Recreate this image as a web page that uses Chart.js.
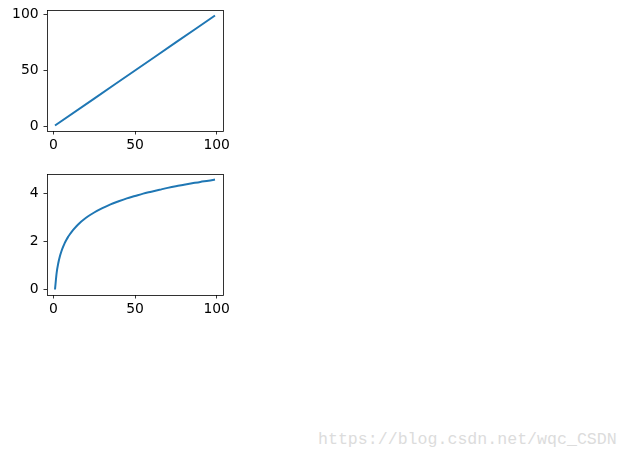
<!DOCTYPE html>
<html>
<head>
<meta charset="utf-8">
<script src="https://cdn.jsdelivr.net/npm/chart.js@4.4.0/dist/chart.umd.min.js"></script>
<style>
  body { margin: 0; background: #fff; width: 629px; height: 463px; position: relative; overflow: hidden; }
  canvas { position: absolute; left: 0; }
  #wm { position: absolute; left: 318px; top: 430px; font: 16.6px "Liberation Mono", monospace; color: #dcdcdc; white-space: nowrap; }
</style>
</head>
<body>
<canvas id="top" width="240" height="150" style="top:0"></canvas>
<canvas id="bottom" width="240" height="150" style="top:164px"></canvas>
<div id="wm">https://blog.csdn.net/wqc_CSDN</div>
<script>
const xTicks = [0, 50, 100];

// upper panel: straight line
const lineX = [1, 25, 50, 75, 99];
const lineY = [1, 25, 50, 75, 99];
const lineYTicks = [0, 50, 100];

// lower panel: curve
const curveX = [1, 2, 3, 4, 5, 6, 7, 8, 9, 10, 12, 15, 20, 25, 30, 35, 40, 45, 50, 55, 60, 65, 70, 75, 80, 85, 90, 95, 99];
const curveY = [0, 0.69, 1.10, 1.39, 1.61, 1.79, 1.95, 2.08, 2.20, 2.30, 2.48, 2.71, 3.00, 3.22, 3.40, 3.56, 3.69, 3.81, 3.91, 4.01, 4.09, 4.17, 4.25, 4.32, 4.38, 4.44, 4.50, 4.55, 4.60];
const curveYTicks = [0, 2, 4];

const font = { family: 'DejaVu Sans', size: 13.9 };

const frame = {
  id: 'frame',
  afterDraw(chart) {
    const a = chart.chartArea, ctx = chart.ctx;
    ctx.save();
    ctx.strokeStyle = '#000';
    ctx.lineWidth = 0.8;
    ctx.strokeRect(Math.round(a.left) + 0.5, Math.round(a.top) + 0.5,
      Math.round(a.right - a.left), Math.round(a.bottom - a.top));
    ctx.restore();
  }
};

function panel(id, xs, ys, yTicks, yMin, yMax) {
  new Chart(document.getElementById(id), {
    type: 'line',
    data: {
      datasets: [{
        data: xs.map((x, i) => ({ x: x, y: ys[i] })),
        borderColor: '#1f77b4',
        borderWidth: 2,
        pointRadius: 0,
        cubicInterpolationMode: 'monotone',
        fill: false
      }]
    },
    options: {
      responsive: false,
      animation: false,
      layout: { padding: { top: 10, right: 17, left: 0, bottom: 0 } },
      plugins: { legend: { display: false }, tooltip: { enabled: false } },
      scales: {
        x: {
          type: 'linear',
          min: -3.9, max: 103.9,
          afterBuildTicks: s => { s.ticks = xTicks.map(v => ({ value: v })); },
          afterFit: s => { s.height = 19; s.paddingLeft = 0; s.paddingRight = 0; },
          border: { display: false },
          grid: { drawOnChartArea: false, tickLength: 3.5, color: '#000', lineWidth: 0.8 },
          ticks: { color: '#000', font: font, padding: 3, maxRotation: 0 }
        },
        y: {
          min: yMin, max: yMax,
          afterBuildTicks: s => { s.ticks = yTicks.map(v => ({ value: v })); },
          afterFit: s => { s.width = 47; s.paddingTop = 0; s.paddingBottom = 0; },
          border: { display: false },
          grid: { drawOnChartArea: false, tickLength: 3.5, color: '#000', lineWidth: 0.8 },
          ticks: { color: '#000', font: font, padding: 4.9 }
        }
      }
    },
    plugins: [frame]
  });
}

panel('top', lineX, lineY, lineYTicks, -3.9, 103.9);
panel('bottom', curveX, curveY, curveYTicks, -0.23, 4.83);
</script>
</body>
</html>
